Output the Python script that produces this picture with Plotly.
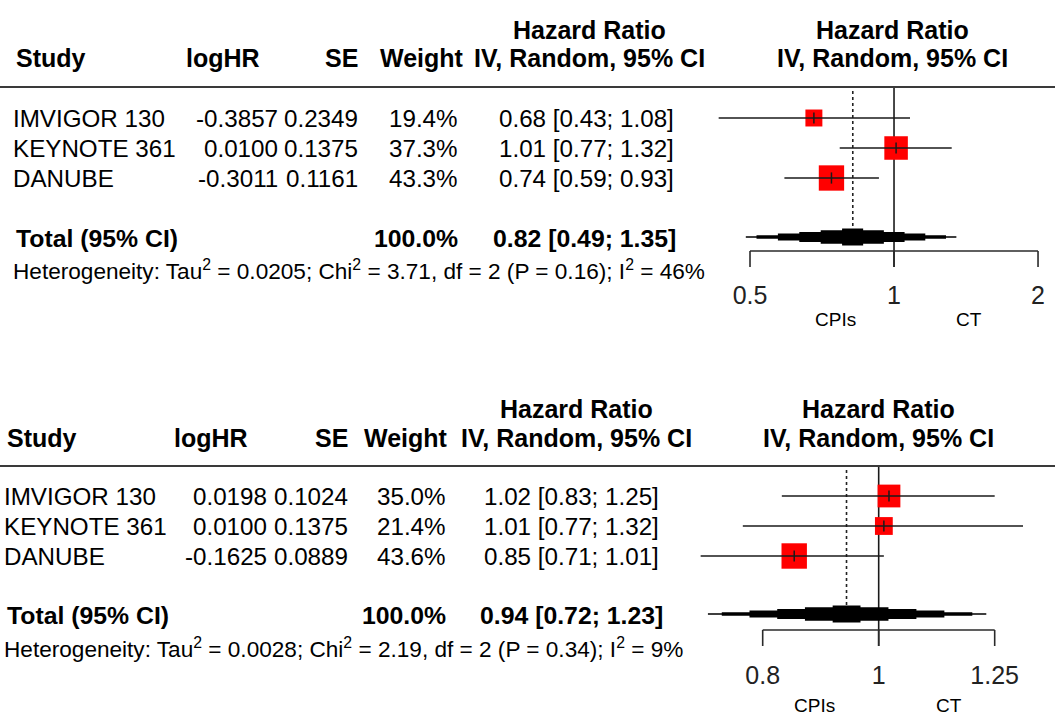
import numpy as np
import plotly.graph_objects as go

W, H = 1055, 718
FONT = "Liberation Sans, Arial, sans-serif"

# ---------------- data ----------------
studies = ["IMVIGOR 130", "KEYNOTE 361", "DANUBE"]

# upper meta-analysis
a_loghr = ["-0.3857", "0.0100", "-0.3011"]
a_se = ["0.2349", "0.1375", "0.1161"]
a_weight = [19.4, 37.3, 43.3]
a_hr = [0.68, 1.01, 0.74]
a_lo = [0.43, 0.77, 0.59]
a_hi = [1.08, 1.32, 0.93]
a_total = [0.82, 0.49, 1.35]
a_het = ["0.0205", "3.71", "2", "0.16", "46"]
a_ticks = [0.5, 1, 2]
a_ticklabels = ["0.5", "1", "2"]

# lower meta-analysis
b_loghr = ["0.0198", "0.0100", "-0.1625"]
b_se = ["0.1024", "0.1375", "0.0889"]
b_weight = [35.0, 21.4, 43.6]
b_hr = [1.02, 1.01, 0.85]
b_lo = [0.83, 0.77, 0.71]
b_hi = [1.25, 1.32, 1.01]
b_total = [0.94, 0.72, 1.23]
b_het = ["0.0028", "2.19", "2", "0.34", "9"]
b_ticks = [0.8, 1, 1.25]
b_ticklabels = ["0.8", "1", "1.25"]

favours = ["CPIs", "CT"]

# ---------------- layout of each panel (pixels) ----------------
panels = [
    dict(xaxis="x", loghr=a_loghr, se=a_se, w=a_weight, hr=a_hr, lo=a_lo, hi=a_hi,
         total=a_total, het=a_het, ticks=a_ticks, ticklabels=a_ticklabels,
         range=[-1.8688, 0.3365],
         y_h1=30, y_h2=58, y_rule=87, rows=[118, 148, 178], y_tot=238, y_het=270,
         y_axis=251, y_tickend=267, y_ticklab=298, y_fav=319,
         x_study=11, x_study_h=14, x_loghr_h=262, x_loghr=280, x_se=360,
         x_w_h=466, x_w=460, x_ci=676, x_ci_tot=678, x_mid=589, x_right=892,
         x_fav=[835, 969]),
    dict(xaxis="x2", loghr=b_loghr, se=b_se, w=b_weight, hr=b_hr, lo=b_lo, hi=b_hi,
         total=b_total, het=b_het, ticks=b_ticks, ticklabels=b_ticklabels,
         range=[-0.7341, 0.1473],
         y_h1=409, y_h2=438, y_rule=466, rows=[496, 526, 556], y_tot=615, y_het=648,
         y_axis=630, y_tickend=646, y_ticklab=678, y_fav=705,
         x_study=2, x_study_h=5, x_loghr_h=250, x_loghr=269, x_se=350,
         x_w_h=450, x_w=448, x_ci=661, x_ci_tot=665, x_mid=576, x_right=878,
         x_fav=[814, 949]),
]

fig = go.Figure()
ann = []


def txt(x, y, s, anchor, size=24.2, bold=False):
    if bold:
        s = f"<b>{s}</b>"
    ann.append(dict(x=x / W, y=y, xref="paper", yref="y", text=s, showarrow=False,
                    xanchor=anchor, yanchor="middle",
                    font=dict(family=FONT, size=size, color="black")))


def stepped_diamond(est, lo, hi, yc, half_h):
    c, a, b = np.log10(est), np.log10(lo), np.log10(hi)
    fr = [0.0, 0.1, 0.3, 0.5, 0.7, 0.9]
    lv = [0.09, 0.2, 0.4, 0.6, 0.8]
    segs = []
    for i in range(5):
        segs.append((a + fr[i] * (c - a), a + fr[i + 1] * (c - a), lv[i]))
    segs.append((a + 0.9 * (c - a), b - 0.9 * (b - c), 1.0))
    for i in reversed(range(5)):
        segs.append((b - fr[i + 1] * (b - c), b - fr[i] * (b - c), lv[i]))
    xs, ys = [], []
    for x0, x1, l in segs:
        xs += [x0, x1]
        ys += [yc - l * half_h, yc - l * half_h]
    for x0, x1, l in reversed(segs):
        xs += [x1, x0]
        ys += [yc + l * half_h, yc + l * half_h]
    return [10 ** v for v in xs], ys


for p in panels:
    xa = p["xaxis"]
    rows = p["rows"]

    # column headers
    txt(p["x_mid"], p["y_h1"], "Hazard Ratio", "center", 25, True)
    txt(p["x_mid"], p["y_h2"], "IV, Random, 95% CI", "center", 25, True)
    txt(p["x_right"], p["y_h1"], "Hazard Ratio", "center", 25, True)
    txt(p["x_right"], p["y_h2"], "IV, Random, 95% CI", "center", 25, True)
    txt(p["x_study_h"], p["y_h2"], "Study", "left", 25, True)
    txt(p["x_loghr_h"], p["y_h2"], "logHR", "right", 25, True)
    txt(p["x_se"], p["y_h2"], "SE", "right", 25, True)
    txt(p["x_w_h"], p["y_h2"], "Weight", "right", 25, True)

    # study rows
    for i, s in enumerate(studies):
        y = rows[i]
        txt(p["x_study"], y, s, "left")
        txt(p["x_loghr"], y, p["loghr"][i], "right")
        txt(p["x_se"], y, p["se"][i], "right")
        txt(p["x_w"], y, f"{p['w'][i]:.1f}%", "right")
        txt(p["x_ci"], y, f"{p['hr'][i]:.2f} [{p['lo'][i]:.2f}; {p['hi'][i]:.2f}]", "right")

    # pooled row
    t = p["total"]
    txt(p["x_study_h"], p["y_tot"], "Total (95% CI)", "left", 24.8, True)
    txt(p["x_w"], p["y_tot"], f"{sum(p['w']):.1f}%", "right", 24.8, True)
    txt(p["x_ci_tot"], p["y_tot"], f"{t[0]:.2f} [{t[1]:.2f}; {t[2]:.2f}]", "right", 24.8, True)
    h = p["het"]
    txt(p["x_study"], p["y_het"],
        f"Heterogeneity: Tau<sup>2</sup> = {h[0]}; Chi<sup>2</sup> = {h[1]}, df = {h[2]} "
        f"(P = {h[3]}); I<sup>2</sup> = {h[4]}%", "left", 22.6)

    # rule under the header
    fig.add_shape(type="line", xref="paper", yref="y", x0=0, x1=1,
                  y0=p["y_rule"], y1=p["y_rule"], line=dict(color="#3a3a3a", width=2.2))

    # line of no effect
    fig.add_trace(go.Scatter(x=[1, 1], y=[p["y_rule"], p["y_tickend"]], xaxis=xa, yaxis="y",
                             mode="lines", line=dict(color="#1a1a1a", width=1.6),
                             hoverinfo="skip", showlegend=False))
    # pooled estimate (dotted)
    fig.add_trace(go.Scatter(x=[t[0], t[0]], y=[p["y_rule"] + 4, p["y_tot"] - 9], xaxis=xa,
                             yaxis="y", mode="lines",
                             line=dict(color="#222", width=1.6, dash="dot"),
                             hoverinfo="skip", showlegend=False))

    # study squares sized by weight
    fig.add_trace(go.Scatter(x=p["hr"], y=rows, xaxis=xa, yaxis="y", mode="markers",
                             marker=dict(symbol="square", color="#ff0000", opacity=1,
                                         size=[3.85 * np.sqrt(w) for w in p["w"]],
                                         line=dict(width=0)),
                             hoverinfo="skip", showlegend=False))
    # confidence intervals
    cx, cy = [], []
    for i in range(3):
        cx += [p["lo"][i], p["hi"][i], None]
        cy += [rows[i], rows[i], None]
    fig.add_trace(go.Scatter(x=cx, y=cy, xaxis=xa, yaxis="y", mode="lines",
                             line=dict(color="#1a1a1a", width=1.5),
                             hoverinfo="skip", showlegend=False))
    fig.add_trace(go.Scatter(x=p["hr"], y=rows, xaxis=xa, yaxis="y", mode="markers",
                             marker=dict(symbol="line-ns", size=8, opacity=1,
                                         line=dict(color="#1a1a1a", width=1.5)),
                             hoverinfo="skip", showlegend=False))

    # pooled diamond
    dx, dy = stepped_diamond(t[0], t[1], t[2], p["y_tot"] - 1, 8.5)
    fig.add_trace(go.Scatter(x=dx, y=dy, xaxis=xa, yaxis="y", mode="lines", fill="toself",
                             fillcolor="black", line=dict(width=0, color="black"),
                             hoverinfo="skip", showlegend=False))

    # hand-drawn axis
    tk = p["ticks"]
    ax_x = [tk[0], tk[-1], None]
    ax_y = [p["y_axis"], p["y_axis"], None]
    for v in tk:
        ax_x += [v, v, None]
        ax_y += [p["y_axis"], p["y_tickend"], None]
    fig.add_trace(go.Scatter(x=ax_x, y=ax_y, xaxis=xa, yaxis="y", mode="lines",
                             line=dict(color="#2a2a2a", width=1.6),
                             hoverinfo="skip", showlegend=False))
    fig.add_trace(go.Scatter(x=tk, y=[p["y_ticklab"]] * len(tk), xaxis=xa, yaxis="y",
                             mode="text", text=p["ticklabels"],
                             textfont=dict(family=FONT, size=25, color="#222"),
                             textposition="middle center",
                             hoverinfo="skip", showlegend=False))
    txt(p["x_fav"][0], p["y_fav"], favours[0], "center", 19)
    txt(p["x_fav"][1], p["y_fav"], favours[1], "center", 19)

fig.update_layout(
    width=W, height=H,
    margin=dict(l=0, r=0, t=0, b=0),
    paper_bgcolor="white", plot_bgcolor="white",
    annotations=ann,
    xaxis=dict(type="log", range=panels[0]["range"], domain=[0, 1], visible=False,
               fixedrange=True),
    xaxis2=dict(type="log", range=panels[1]["range"], domain=[0, 1], visible=False,
                overlaying="x", anchor="y", fixedrange=True),
    yaxis=dict(range=[H, 0], domain=[0, 1], visible=False, fixedrange=True),
    showlegend=False,
)

fig.write_html("out.html", config={"displayModeBar": False})
